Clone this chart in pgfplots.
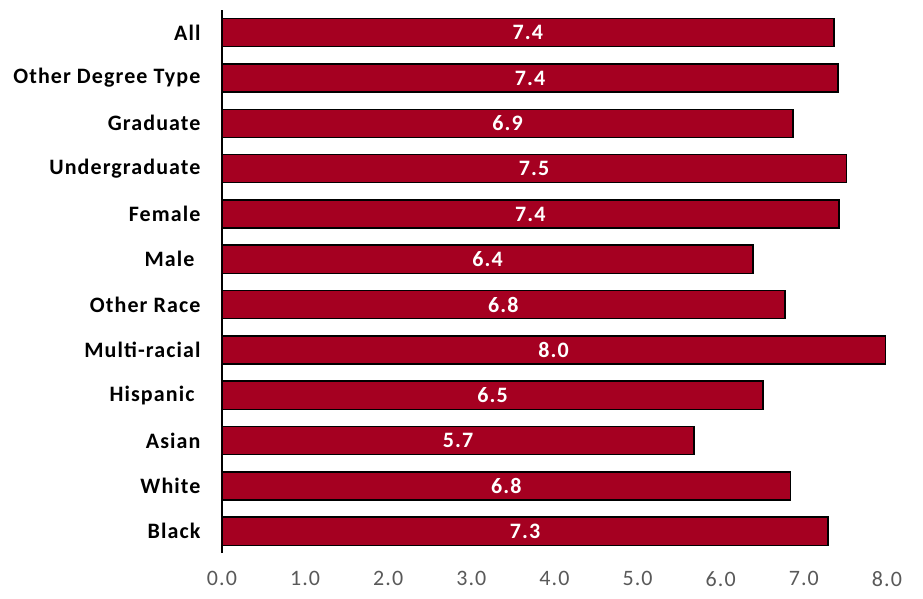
\documentclass[border=0pt]{standalone}
\usepackage{fontspec}
\setmainfont{Carlito}
\newfontfamily\spaced[LetterSpace=5]{Carlito}
\usepackage{pgfplots}
\pgfplotsset{compat=1.18}
\definecolor{barred}{RGB}{165,0,33}
\definecolor{tickgray}{RGB}{89,89,89}
\begin{document}
\begin{tikzpicture}
\begin{axis}[
  at={(0,0)}, anchor=south west,
  scale only axis,
  width=665pt, height=543pt,
  xbar, bar width=0.62,
  xmin=0, xmax=8,
  ymin=-0.48, ymax=11.5,
  xtick={0,1,...,8},
  ytick={0,...,11},
  yticklabels={Black,White,Asian,Hispanic\hspace*{6pt},Multi-racial,Other Race,Male\hspace*{6pt},Female,Undergraduate,Graduate,Other Degree Type,All},
  axis lines*=left,
  x axis line style={draw=none},
  y axis line style={line width=1.6pt, black},
  major tick length=0pt,
  xticklabel style={font=\spaced\fontsize{22}{26}\selectfont, text=tickgray, /pgf/number format/fixed, /pgf/number format/zerofill, /pgf/number format/precision=1, /pgf/number format/assume math mode=true},
  yticklabel style={font=\spaced\bfseries\fontsize{22}{26}\selectfont, text=black},
  xticklabel shift=15pt,
  yticklabel shift=18pt,
  visualization depends on=rawx \as \rawx,
  nodes near coords={\pgfmathprintnumber[fixed,zerofill,precision=1,assume math mode=true]{\pgfplotspointmeta}},
  every node near coord/.append style={anchor=center, text=white, font=\spaced\bfseries\fontsize{22}{26}\selectfont, shift={(axis direction cs:-\rawx/2,0)}},
]
\addplot[fill=barred, draw=black, line width=1.5pt] coordinates {
(7.29,0) (6.84,1) (5.68,2) (6.51,3) (7.98,4) (6.77,5) (6.39,6) (7.42,7) (7.51,8) (6.87,9) (7.41,10) (7.36,11)
};
\end{axis}
\pgfresetboundingbox
\path[use as bounding box] (-222pt,-45pt) rectangle (701pt,553pt);
\end{tikzpicture}
\end{document}
